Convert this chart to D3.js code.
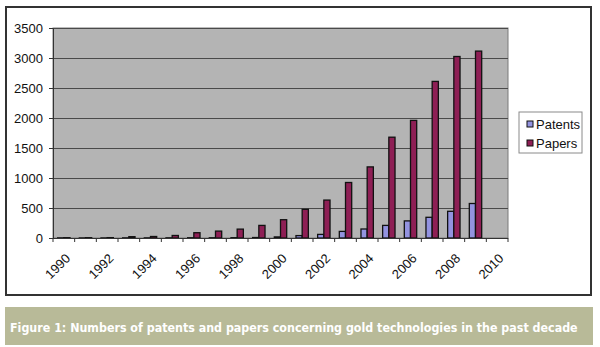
<!DOCTYPE html>
<html>
<head>
<meta charset="utf-8">
<script src="https://cdn.jsdelivr.net/npm/d3@7"></script>
<style>
  body { margin: 0; background: #fff; }
  text { font-family: "Liberation Sans", Arial, sans-serif; }
</style>
</head>
<body>
<div id="chart"></div>
<script>
// Data
const years = d3.range(1990, 2011).map(String)
const series = ["Patents", "Papers"]
const patents = [2, 1, 1, 2, 2, 3, 4, 4, 5, 8, 18, 40, 60, 110, 150, 210, 285, 345, 445, 575, 0]
const papers = [5, 5, 6, 22, 25, 42, 88, 115, 148, 210, 305, 478, 632, 925, 1185, 1680, 1960, 2610, 3025, 3115, 0]
const yTicks = [0, 500, 1000, 1500, 2000, 2500, 3000, 3500]
const caption = "Figure 1: Numbers of patents and papers concerning gold technologies in the past decade"

const colors = { Patents: "#9393e0", Papers: "#8e1f55" }

// Layout
const W = 600, H = 347
const plot = { left: 53, top: 28, right: 508, bottom: 238 }

const svg = d3.select("#chart")
  .append("svg")
  .attr("width", W)
  .attr("height", H)

svg.append("rect").attr("width", W).attr("height", H).attr("fill", "#fff")

// outer chart frame
svg.append("rect")
  .attr("x", 6).attr("y", 7)
  .attr("width", 585).attr("height", 288)
  .attr("fill", "#fff")
  .attr("stroke", "#333")
  .attr("stroke-width", 2)

// Scales
const x = d3.scaleBand().domain(years).range([plot.left, plot.right])
const x1 = d3.scaleBand().domain(series).range([0, x.bandwidth()]).paddingOuter(0.75)
const y = d3.scaleLinear().domain([0, 3500]).range([plot.bottom, plot.top])

// plot area
svg.append("rect")
  .attr("x", plot.left).attr("y", plot.top)
  .attr("width", plot.right - plot.left).attr("height", plot.bottom - plot.top)
  .attr("fill", "#b4b4b4")
  .attr("stroke", "#7a7a7a")

// gridlines
svg.append("g")
  .selectAll("line")
  .data(yTicks.filter(d => d > 0))
  .join("line")
  .attr("x1", plot.left).attr("x2", plot.right)
  .attr("y1", d => Math.round(y(d)) + 0.5).attr("y2", d => Math.round(y(d)) + 0.5)
  .attr("stroke", "#4a4a4a")

// y axis
const yaxis = d3.axisLeft(y).tickValues(yTicks).tickFormat(d3.format("d"))
  .tickSize(4).tickSizeOuter(0).tickPadding(6)
const gy = svg.append("g").attr("transform", `translate(${plot.left},0)`).call(yaxis)
gy.select(".domain").attr("stroke", "#333")
gy.selectAll(".tick line").attr("stroke", "#333")
gy.selectAll("text").attr("font-size", 13).attr("fill", "#111")
  .style("font-family", "'Liberation Sans', Arial, sans-serif")

// bars
const rows = years.map((yr, i) => ({ year: yr, Patents: patents[i], Papers: papers[i] }))
svg.append("g")
  .selectAll("g")
  .data(rows)
  .join("g")
  .attr("transform", d => `translate(${x(d.year)},0)`)
  .selectAll("rect")
  .data(d => series.map(s => ({ key: s, value: d[s] })).filter(d => d.value > 0))
  .join("rect")
  .attr("x", d => x1(d.key))
  .attr("width", x1.bandwidth())
  .attr("y", d => y(d.value))
  .attr("height", d => y(0) - y(d.value))
  .attr("fill", d => colors[d.key])
  .attr("stroke", "#111")
  .attr("stroke-width", 1.3)

// x axis line and boundary ticks
const bounds = years.map(d => x(d)).concat([plot.right])
const gx = svg.append("g")
gx.append("line")
  .attr("x1", plot.left).attr("x2", plot.right)
  .attr("y1", plot.bottom + 0.5).attr("y2", plot.bottom + 0.5)
  .attr("stroke", "#333")
gx.selectAll(".bt")
  .data(bounds)
  .join("line")
  .attr("class", "bt")
  .attr("x1", d => d).attr("x2", d => d)
  .attr("y1", plot.bottom).attr("y2", plot.bottom + 4)
  .attr("stroke", "#333")

// x labels, every other year
gx.selectAll(".xl")
  .data(years.filter((d, i) => i % 2 === 0))
  .join("text")
  .attr("class", "xl")
  .attr("transform", d => `translate(${x(d) + x.bandwidth() / 2 + 4},256) rotate(-45)`)
  .attr("dy", "0.35em")
  .attr("text-anchor", "end")
  .attr("font-size", 13)
  .attr("fill", "#111")
  .text(d => d)

// legend
const lg = svg.append("g").attr("transform", "translate(519,112)")
lg.append("rect")
  .attr("width", 63).attr("height", 41)
  .attr("fill", "#fff").attr("stroke", "#8a8a8a")
series.forEach((s, i) => {
  lg.append("rect")
    .attr("x", 8).attr("y", 9 + i * 19)
    .attr("width", 6).attr("height", 6)
    .attr("fill", colors[s]).attr("stroke", "#111")
  lg.append("text")
    .attr("x", 17).attr("y", 12 + i * 19)
    .attr("dy", "0.35em")
    .attr("font-size", 13)
    .attr("fill", "#111")
    .text(s)
})

// caption bar
svg.append("rect")
  .attr("x", 5).attr("y", 307)
  .attr("width", 588).attr("height", 38)
  .attr("fill", "#b8ba98")
const cap = svg.append("text")
  .attr("x", 10).attr("y", 332)
  .attr("font-size", 16)
  .attr("font-weight", "bold")
  .style("font-family", "'Liberation Sans Narrow', 'DejaVu Sans Condensed', sans-serif")
  .attr("fill", "#fff")
  .text(caption)
// scale the font so the caption spans the bar like the original
const capW = cap.node().getComputedTextLength()
cap.attr("font-size", Math.min(17, 16 * 568 / capW).toFixed(2))
</script>
</body>
</html>
